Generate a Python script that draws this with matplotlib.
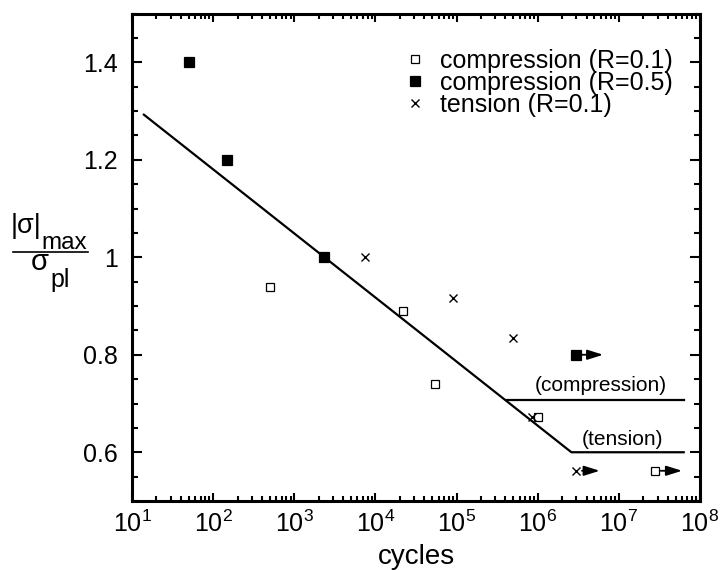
import math
import matplotlib
matplotlib.use("Agg")
import matplotlib.pyplot as plt
from matplotlib.ticker import LogLocator, MultipleLocator, FixedLocator, NullFormatter, FuncFormatter
from matplotlib.lines import Line2D

plt.rcParams['font.family'] = ['Liberation Sans', 'DejaVu Sans']
plt.rcParams['mathtext.fontset'] = 'custom'
plt.rcParams['mathtext.rm'] = 'Liberation Sans'
plt.rcParams['mathtext.it'] = 'Liberation Sans:italic'
plt.rcParams['mathtext.bf'] = 'Liberation Sans:bold'

# ---- data ----
comp01_x = [500, 2.2e4, 5.4e4, 1.0e6]
comp01_y = [0.94, 0.89, 0.741, 0.672]
comp05_x = [50, 150, 2300]
comp05_y = [1.40, 1.20, 1.00]
tens_x = [7500, 9.1e4, 4.9e5, 8.5e5]
tens_y = [1.00, 0.917, 0.835, 0.672]

# run-outs (no failure)
runout_comp01_x, runout_comp01_y = [2.8e7], [0.562]
runout_comp05_x, runout_comp05_y = [3.0e6], [0.80]
runout_tens_x, runout_tens_y = [3.0e6], [0.562]
runout_arrow_end = {'comp01': 6.0e7, 'comp05': 6.4e6, 'tens': 5.8e6}

fit_x = [14, 2.6e6, 6.3e7]
fit_y = [1.2925, 0.600, 0.600]
comp_lim_x = [4.2e5, 6.3e7]
comp_lim_y = [0.707, 0.707]

labels = ['compression (R=0.1)', 'compression (R=0.5)', 'tension (R=0.1)']
xtick_vals = [1e1, 1e2, 1e3, 1e4, 1e5, 1e6, 1e7, 1e8]
ytick_vals = [0.6, 0.8, 1.0, 1.2, 1.4]

fig = plt.figure(figsize=(7.21, 5.70), dpi=100)
ax = fig.add_axes([132/721, 1-501/570, 568/721, 487.5/570])

ax.set_xscale('log')
ax.set_xlim(1e1, 1e8)
ax.set_ylim(0.5, 1.5)

ax.plot(fit_x, fit_y, color='black', lw=1.6)
ax.plot(comp_lim_x, comp_lim_y, color='black', lw=1.6)

ms = 6
ax.plot(comp01_x + runout_comp01_x, comp01_y + runout_comp01_y, ls='none', marker='s',
        ms=ms, mfc='white', mec='black', mew=0.9, label=labels[0])
ax.plot(comp05_x + runout_comp05_x, comp05_y + runout_comp05_y, ls='none', marker='s',
        ms=ms+0.5, mfc='black', mec='black', mew=0.9, label=labels[1])
ax.plot(tens_x + runout_tens_x, tens_y + runout_tens_y, ls='none', marker='x',
        ms=ms, mec='black', mew=1.0, label=labels[2])

arrow_kw = dict(arrowstyle='-|>,head_length=0.95,head_width=0.3', color='black', lw=1.3,
                shrinkA=4, shrinkB=0)
for key, xs, ys in [('comp01', runout_comp01_x, runout_comp01_y),
                    ('comp05', runout_comp05_x, runout_comp05_y),
                    ('tens', runout_tens_x, runout_tens_y)]:
    for x0, y0 in zip(xs, ys):
        ax.annotate('', xy=(runout_arrow_end[key], y0), xytext=(x0, y0),
                    arrowprops=arrow_kw)

ax.text(6.0e6, 0.7375, '(compression)', ha='center', va='center', fontsize=15)
ax.text(1.1e7, 0.627, '(tension)', ha='center', va='center', fontsize=15)

# ticks
ax.xaxis.set_major_locator(FixedLocator(xtick_vals))
ax.xaxis.set_major_formatter(FuncFormatter(lambda v, p: r'$10^{%d}$' % round(math.log10(v))))
ax.xaxis.set_minor_locator(LogLocator(base=10, subs=range(2, 10), numticks=20))
ax.xaxis.set_minor_formatter(NullFormatter())
ax.yaxis.set_major_locator(FixedLocator(ytick_vals))
ax.yaxis.set_major_formatter(FuncFormatter(lambda v, p: ('%g' % v)))
ax.yaxis.set_minor_locator(MultipleLocator(0.05))

ax.tick_params(which='both', direction='in', top=True, right=True, width=1.5, colors='black')
ax.tick_params(axis='x', which='major', length=6, labelsize=18, pad=7)
ax.tick_params(axis='x', which='minor', length=3.5)
ax.tick_params(axis='y', which='major', length=7, labelsize=18, pad=10)
ax.tick_params(axis='y', which='minor', length=4)
for s in ax.spines.values():
    s.set_linewidth(2.2)

ax.set_xlabel('cycles', fontsize=20, labelpad=5)

leg = ax.legend(loc='upper left', bbox_to_anchor=((405-132)/568, (501-49)/487.5),
                frameon=False, fontsize=18, handlelength=0.8, handletextpad=0.62,
                labelspacing=-0.08, borderpad=0, borderaxespad=0)

# y label: |sigma|_max / sigma_pl composed as a fraction
def fx(px):
    return px / 721
def fy(py):
    return 1 - py / 570
fig.add_artist(Line2D([fx(13), fx(88)], [fy(251.7), fy(251.7)], color='black', lw=1.2))
fig.text(fx(11), fy(233), '|σ|', fontsize=19.5, ha='left', va='baseline')
fig.text(fx(41), fy(249), 'max', fontsize=17.5, ha='left', va='baseline')
fig.text(fx(31), fy(270), 'σ', fontsize=21, ha='left', va='baseline')
fig.text(fx(50), fy(287), 'pl', fontsize=18, ha='left', va='baseline')

fig.savefig('out.png', dpi=100)
